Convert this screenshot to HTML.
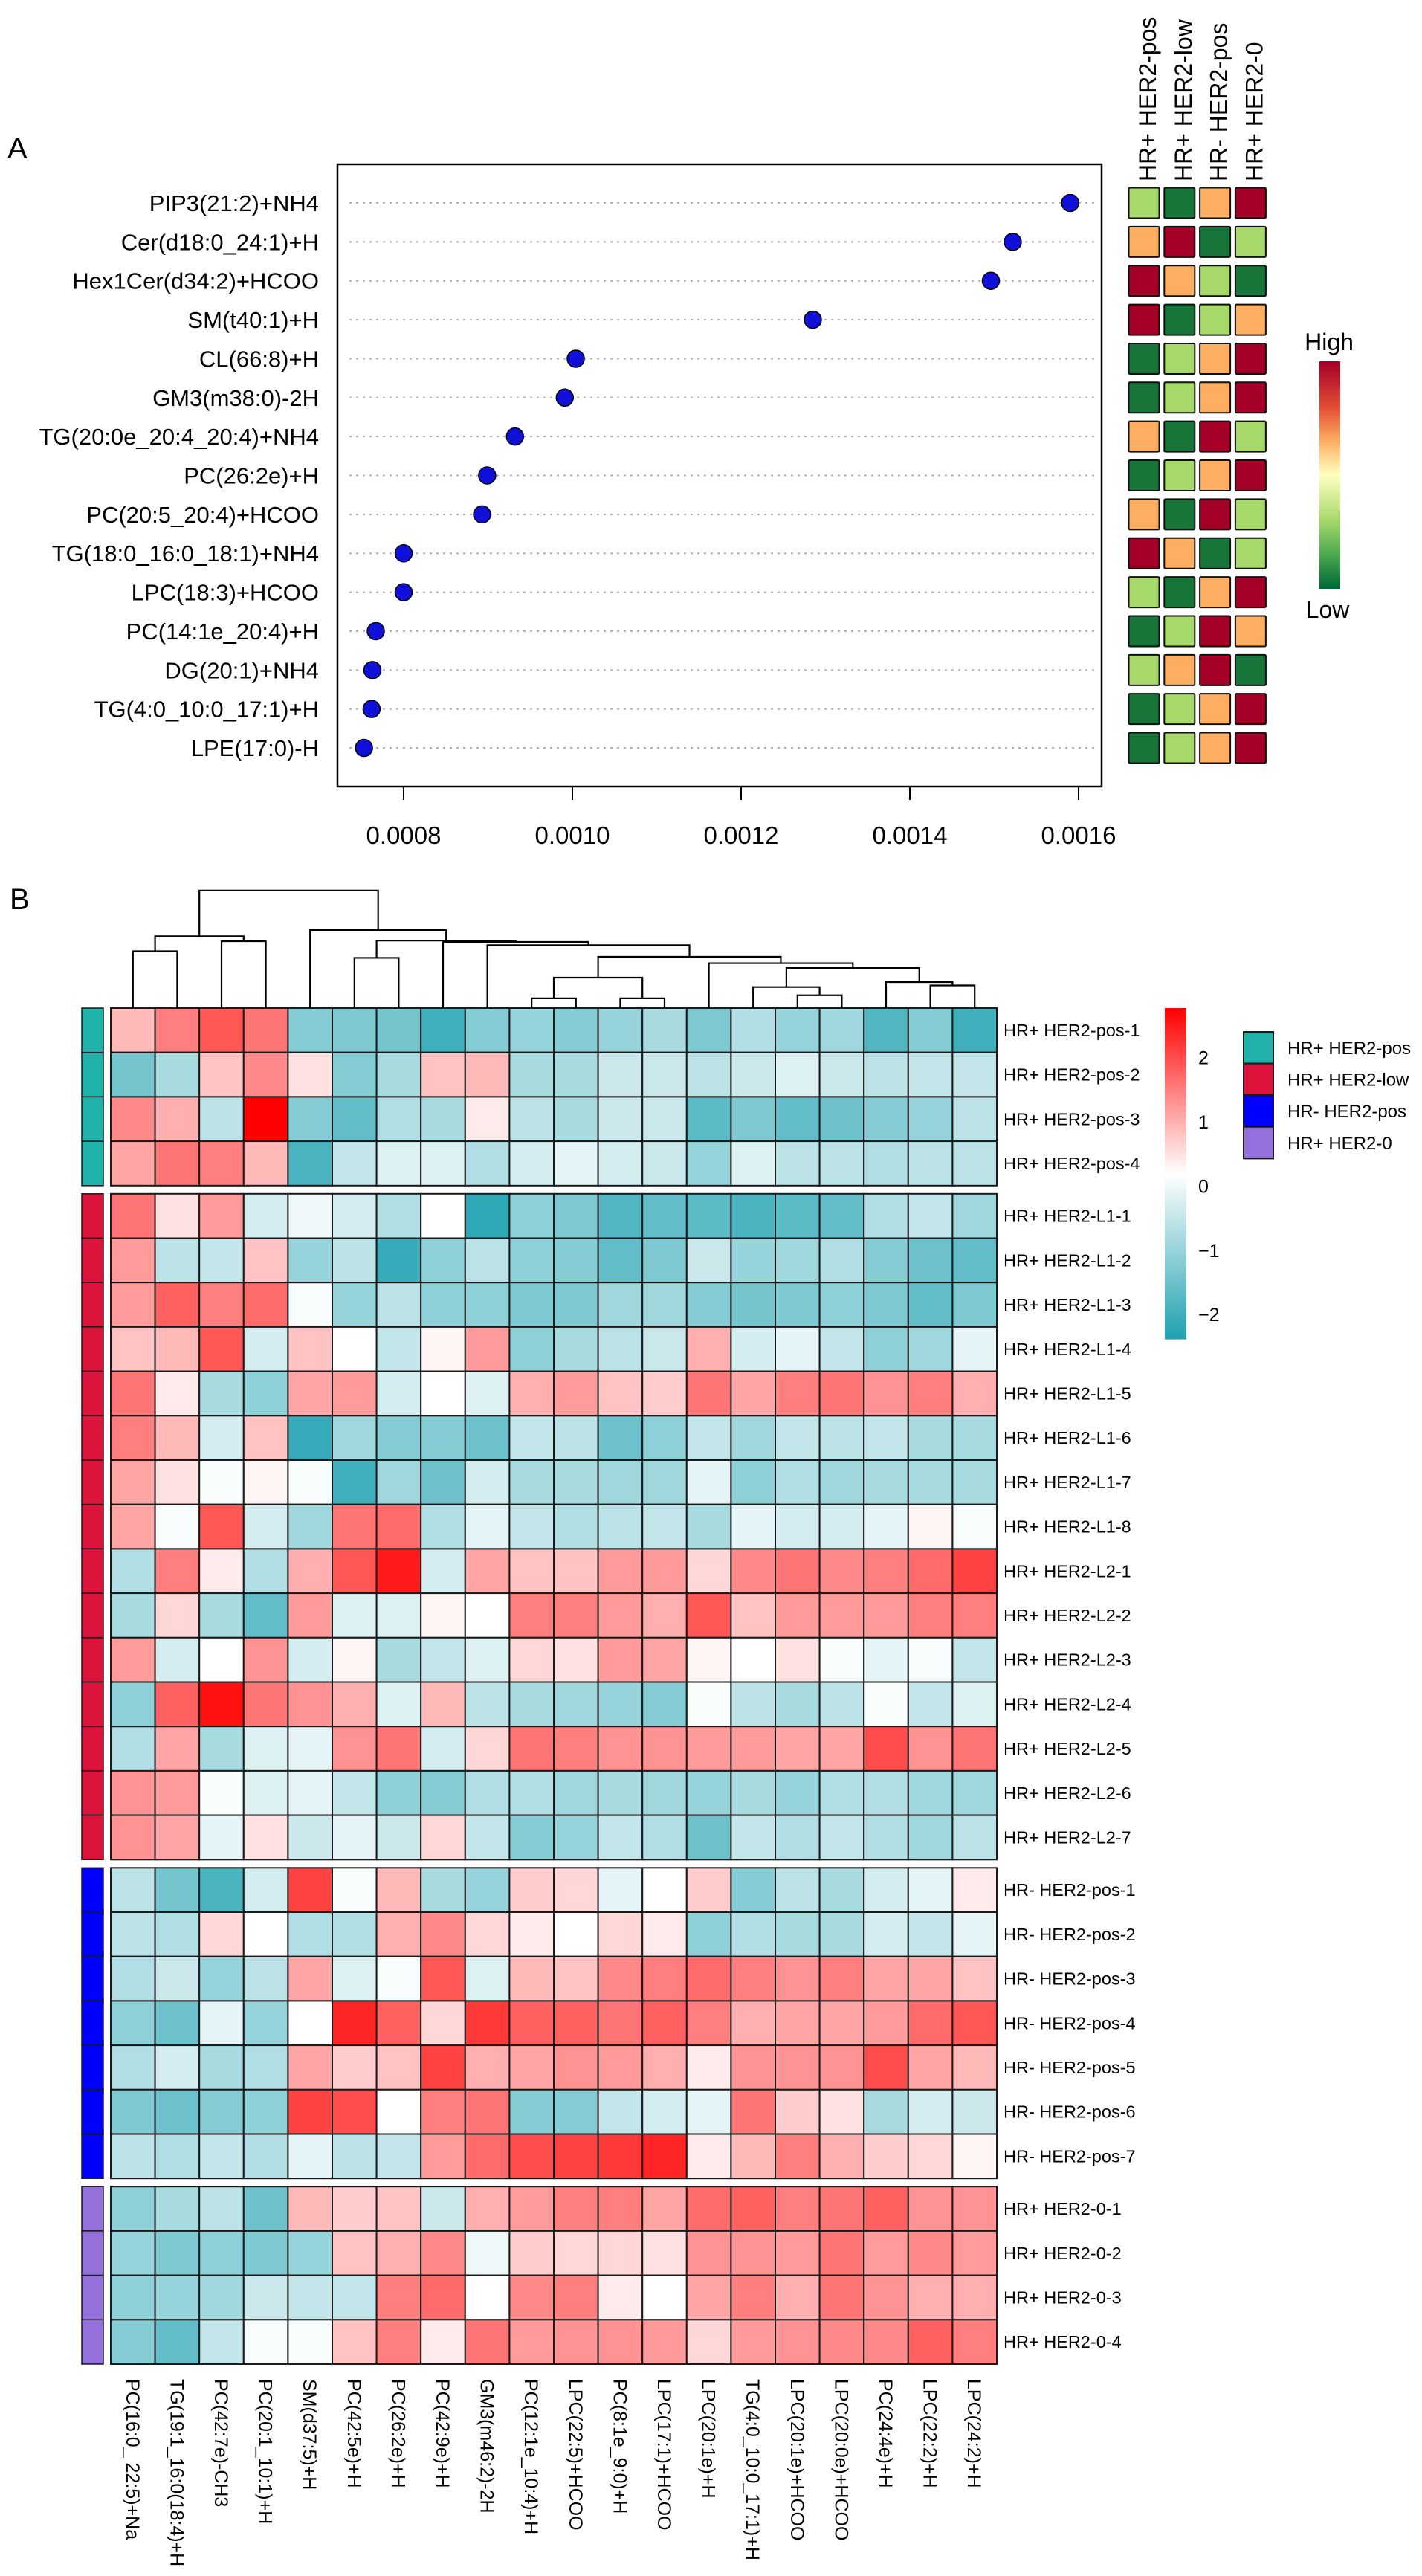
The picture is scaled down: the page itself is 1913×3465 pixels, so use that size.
<!DOCTYPE html>
<html><head><meta charset="utf-8"><style>
html,body{margin:0;padding:0;background:#fff;}
svg{display:block;font-family:"Liberation Sans",Arial,sans-serif;}
</style></head><body>
<svg id="fig" xmlns="http://www.w3.org/2000/svg" width="1913" height="3465" viewBox="0 0 1913 3465">
<defs>
<linearGradient id="gA" x1="0" y1="0" x2="0" y2="1">
<stop offset="0" stop-color="#a50026"/><stop offset="0.2" stop-color="#e34a33"/><stop offset="0.35" stop-color="#fdae61"/><stop offset="0.5" stop-color="#ffffbf"/><stop offset="0.7" stop-color="#a6d96a"/><stop offset="0.85" stop-color="#4aa84f"/><stop offset="1" stop-color="#006837"/>
</linearGradient>
</defs>
<text x="10" y="213" font-size="40">A</text>
<text x="13" y="1223" font-size="40">B</text>
<g id="pa"></g>
<g id="pb"></g>
</svg>
<script>
// ---------- Panel A data ----------
const lipidsA = ["PIP3(21:2)+NH4","Cer(d18:0_24:1)+H","Hex1Cer(d34:2)+HCOO","SM(t40:1)+H","CL(66:8)+H","GM3(m38:0)-2H","TG(20:0e_20:4_20:4)+NH4","PC(26:2e)+H","PC(20:5_20:4)+HCOO","TG(18:0_16:0_18:1)+NH4","LPC(18:3)+HCOO","PC(14:1e_20:4)+H","DG(20:1)+NH4","TG(4:0_10:0_17:1)+H","LPE(17:0)-H"];
const importance = [0.001590,0.001522,0.001496,0.001285,0.001004,0.000991,0.000932,0.000899,0.000893,0.000800,0.000800,0.000767,0.000763,0.000762,0.000753];
const xTicksA = [0.0008,0.0010,0.0012,0.0014,0.0016];
const xTickLabelsA = ["0.0008","0.0010","0.0012","0.0014","0.0016"];
const groupsA = ["HR+ HER2-pos","HR+ HER2-low","HR- HER2-pos","HR+ HER2-0"];
// levels: 0=low(dark green) 1=light green 2=orange 3=high(dark red)
const levelsA = [[1,0,2,3],[2,3,0,1],[3,2,1,0],[3,0,1,2],[0,1,2,3],[0,1,2,3],[2,0,3,1],[0,1,2,3],[2,0,3,1],[3,2,0,1],[1,0,2,3],[0,1,3,2],[1,2,3,0],[0,1,2,3],[0,1,2,3]];

// ---------- Panel B data ----------
const colLabels = ["PC(16:0_ 22:5)+Na","TG(19:1_16:0(18:4)+H","PC(42:7e)-CH3","PC(20:1_10:1)+H","SM(d37:5)+H","PC(42:5e)+H","PC(26:2e)+H","PC(42:9e)+H","GM3(m46:2)-2H","PC(12:1e_10:4)+H","LPC(22:5)+HCOO","PC(8:1e_9:0)+H","LPC(17:1)+HCOO","LPC(20:1e)+H","TG(4:0_10:0_17:1)+H","LPC(20:1e)+HCOO","LPC(20:0e)+HCOO","PC(24:4e)+H","LPC(22:2)+H","LPC(24:2)+H"];
const rowLabels = ["HR+ HER2-pos-1","HR+ HER2-pos-2","HR+ HER2-pos-3","HR+ HER2-pos-4","HR+ HER2-L1-1","HR+ HER2-L1-2","HR+ HER2-L1-3","HR+ HER2-L1-4","HR+ HER2-L1-5","HR+ HER2-L1-6","HR+ HER2-L1-7","HR+ HER2-L1-8","HR+ HER2-L2-1","HR+ HER2-L2-2","HR+ HER2-L2-3","HR+ HER2-L2-4","HR+ HER2-L2-5","HR+ HER2-L2-6","HR+ HER2-L2-7","HR- HER2-pos-1","HR- HER2-pos-2","HR- HER2-pos-3","HR- HER2-pos-4","HR- HER2-pos-5","HR- HER2-pos-6","HR- HER2-pos-7","HR+ HER2-0-1","HR+ HER2-0-2","HR+ HER2-0-3","HR+ HER2-0-4"];
const rowGroup = [0,0,0,0,1,1,1,1,1,1,1,1,1,1,1,1,1,1,1,2,2,2,2,2,2,2,3,3,3,3];
const groupNames = ["HR+ HER2-pos","HR+ HER2-low","HR- HER2-pos","HR+ HER2-0"];
const groupColors = ["#20B2AA","#DC143C","#0000FF","#9370DB"];
const zValues = [
[0.9,1.5,1.9,1.6,-1.2,-1.3,-1.4,-2.0,-1.2,-1.0,-1.2,-1.0,-0.8,-1.3,-0.7,-1.0,-0.9,-1.8,-1.2,-2.0],
[-1.4,-0.8,0.8,1.4,0.5,-1.2,-0.8,0.8,0.9,-0.8,-0.8,-0.4,-0.4,-0.6,-0.4,-0.2,-0.4,-0.6,-0.5,-0.5],
[1.4,1.0,-0.6,2.77,-1.2,-1.6,-0.7,-0.8,0.4,-0.6,-0.8,-0.4,-0.4,-1.7,-1.3,-1.6,-1.5,-1.2,-1.0,-0.6],
[1.1,1.6,1.5,0.9,-1.9,-0.5,-0.2,-0.2,-0.7,-0.3,-0.1,-0.3,-0.4,-1.0,-0.2,-0.6,-0.6,-0.7,-0.6,-0.6],
[1.6,0.5,1.2,-0.3,0.0,-0.3,-0.7,0.2,-2.2,-1.1,-1.3,-1.8,-1.6,-1.7,-1.9,-1.7,-1.6,-0.7,-0.5,-0.9],
[1.2,-0.6,-0.5,0.8,-1.0,-0.6,-2.1,-1.1,-0.6,-1.1,-1.2,-1.6,-1.3,-0.4,-1.0,-0.9,-0.7,-1.2,-1.5,-1.6],
[1.2,1.8,1.5,1.7,0.1,-1.0,-0.6,-1.1,-1.1,-1.3,-1.3,-0.9,-0.9,-1.2,-1.4,-1.3,-1.1,-1.3,-1.6,-1.3],
[0.8,0.9,1.9,-0.3,0.8,0.2,-0.5,0.3,1.2,-1.1,-0.8,-0.6,-0.4,1.0,-0.3,-0.1,-0.5,-1.1,-0.9,-0.1],
[1.6,0.4,-0.8,-1.1,1.1,1.2,-0.3,0.2,-0.2,1.0,1.2,0.8,0.7,1.6,1.1,1.5,1.6,1.3,1.5,1.0],
[1.5,0.9,-0.3,0.8,-2.1,-0.9,-1.2,-1.2,-1.5,-0.5,-0.6,-1.5,-1.1,-0.5,-0.9,-0.5,-0.6,-0.5,-0.8,-0.8],
[1.1,0.5,0.1,0.3,0.1,-2.0,-0.9,-1.5,-0.3,-0.8,-0.8,-0.9,-0.9,-0.1,-1.1,-0.7,-0.9,-0.8,-0.8,-0.8],
[1.1,0.1,1.9,-0.3,-0.9,1.6,1.7,-0.7,-0.1,-0.5,-0.7,-0.6,-0.5,-0.8,-0.1,-0.3,-0.3,-0.1,0.3,0.1],
[-0.7,1.5,0.4,-0.7,1.0,1.9,2.5,-0.3,1.1,0.8,0.8,1.2,1.2,0.6,1.4,1.6,1.4,1.5,1.7,2.1],
[-0.8,0.6,-0.8,-1.6,1.2,-0.2,-0.2,0.3,0.2,1.5,1.5,1.2,1.0,1.9,0.8,1.2,1.2,1.2,1.5,1.5],
[1.2,-0.3,0.2,1.3,-0.3,0.3,-0.8,-0.5,-0.2,0.6,0.5,1.2,1.1,0.3,0.2,0.5,0.1,-0.1,0.1,-0.5],
[-1.1,1.8,2.6,1.6,1.3,1.0,-0.2,0.9,-0.6,-0.8,-0.9,-1.0,-1.2,0.1,-0.6,-0.8,-0.6,0.1,-0.5,-0.2],
[-0.7,1.1,-0.8,-0.2,-0.1,1.3,1.6,-0.3,0.6,1.6,1.5,1.3,1.3,1.2,1.2,1.1,1.1,2.0,1.3,1.6],
[1.3,1.2,0.1,-0.2,-0.1,-0.5,-1.1,-1.2,-0.7,-0.7,-0.9,-0.8,-0.9,-1.0,-0.8,-1.0,-0.7,-0.7,-0.9,-0.9],
[1.3,1.1,-0.1,0.5,-0.4,-0.1,-0.4,0.6,-0.5,-1.2,-1.0,-0.5,-0.7,-1.5,-0.5,-0.7,-0.5,-0.7,-0.9,-0.6],
[-0.6,-1.4,-1.9,-0.3,2.1,0.1,0.9,-0.8,-1.0,0.7,0.6,-0.1,0.2,0.7,-1.2,-0.6,-0.8,-0.3,-0.1,0.4],
[-0.6,-0.7,0.6,0.2,-0.7,-0.7,1.0,1.4,0.6,0.4,0.2,0.6,0.4,-1.1,-0.7,-0.8,-0.8,-0.3,-0.5,-0.1],
[-0.7,-0.4,-1.0,-0.6,1.1,-0.2,0.1,1.9,-0.2,0.9,0.8,1.4,1.5,1.7,1.5,1.3,1.5,1.1,1.1,0.8],
[-1.1,-1.5,-0.1,-1.0,0.2,2.4,1.8,0.6,2.2,1.8,1.8,1.6,1.8,1.5,1.0,1.1,1.1,1.2,1.7,1.9],
[-0.7,-0.3,-0.8,-0.7,1.1,0.7,0.8,2.1,1.0,1.1,1.3,1.2,1.0,0.4,1.3,1.3,1.3,2.0,1.1,0.9],
[-1.3,-1.5,-1.2,-1.1,2.1,2.0,0.2,1.5,1.6,-1.2,-1.2,-0.5,-0.3,-0.1,1.6,0.7,0.5,-0.8,-0.3,-0.4],
[-0.6,-0.7,-0.5,-0.7,-0.1,-0.6,-0.5,1.2,1.7,2.0,2.1,2.2,2.4,0.4,0.9,1.5,1.0,0.7,0.6,0.3],
[-1.1,-0.8,-0.6,-1.5,0.9,0.7,0.8,-0.4,1.0,1.2,1.5,1.5,1.1,1.7,1.8,1.5,1.6,1.8,1.3,1.3],
[-1.0,-1.3,-1.1,-1.3,-1.0,0.8,1.0,1.4,0.0,0.7,0.6,0.6,0.5,1.3,1.3,1.2,1.6,1.2,1.4,1.2],
[-1.1,-1.0,-0.9,-0.4,-0.5,-0.5,1.5,1.7,0.2,1.4,1.5,0.4,0.2,1.1,1.5,1.0,1.6,1.3,1.0,1.0],
[-1.2,-1.6,-0.5,0.1,0.1,0.8,1.5,0.4,1.6,1.2,1.3,1.3,1.2,0.6,1.2,1.3,1.4,1.4,1.8,1.5]
];
const legendTicks = [2,1,0,-1,-2];
const legendTickLabels = ["2","1","0","\u22121","\u22122"];
// dendrogram merges (hclust style: negative = leaf index+1, positive = earlier merge)
const mergeLeft  = [-10,-12,-16,-15,-19,-18,1,4,-14,7,-9,-8,-6,13,-5,-1,-3,16,18];
const mergeRight = [-11,-13,-17,3,-20,5,2,6,8,9,10,11,-7,12,14,-2,-4,17,15];
const mergeHeight= [0.83,0.83,1.09,1.79,1.93,2.21,2.59,3.41,3.82,4.36,5.35,5.63,4.27,5.74,6.64,4.84,5.69,6.11,10.0];

const NS = "http://www.w3.org/2000/svg";
function mk(parent, tag, attrs, txt){
  const e = document.createElementNS(NS, tag);
  for (const k in attrs) e.setAttribute(k, attrs[k]);
  if (txt !== undefined) e.textContent = txt;
  parent.appendChild(e);
  return e;
}

// ---------- Panel A ----------
const pa = document.getElementById("pa");
const boxL = 454, boxR = 1482, boxT = 221, boxB = 1058;
const xA = v => 543 + (v - 0.0008) / 0.0002 * 227;
const yA = i => 273 + i * 52.36;
const box = mk(pa, "rect", {x:boxL, y:boxT, width:boxR-boxL, height:boxB-boxT, fill:"none", stroke:"#000", "stroke-width":2.5});


xTicksA.forEach((t, k) => {
  const x = xA(t);
  const tl = mk(pa, "line", {x1:x, x2:x, y1:boxB, y2:boxB+18, stroke:"#000", "stroke-width":2});
  
  
  const tt = mk(pa, "text", {x:x, y:1135, "font-size":33, "text-anchor":"middle"}, xTickLabelsA[k]);
  
  
});
const tileColors = ["#17753a","#a6d96a","#fdae61","#a50026"];
const tileX = j => 1539 + j * 47.8;
lipidsA.forEach((name, i) => {
  const y = yA(i);
  const gl = mk(pa, "line", {x1:470, x2:1472, y1:y, y2:y, stroke:"#b0b0b0", "stroke-width":2, "stroke-dasharray":"3,6"});
  
  
  const lb = mk(pa, "text", {x:429, y:y+11, "font-size":31, "text-anchor":"end"}, name);
  
  
  const dot = mk(pa, "circle", {cx:xA(importance[i]), cy:y, r:11.5, fill:"#1010d8", stroke:"#000", "stroke-width":1.5});
  
  
  levelsA[i].forEach((lv, j) => {
    const r = mk(pa, "rect", {x:tileX(j)-20.5, y:y-20.5, width:41, height:41, fill:tileColors[lv], stroke:"#111", "stroke-width":2, rx:1.5});
    
    
  });
});
groupsA.forEach((g, j) => {
  const x = tileX(j) + 16, y = 244;
  const t = mk(pa, "text", {x:x, y:y, "font-size":32, transform:`rotate(-90 ${x} ${y})`}, g);
  
  
});
const gbar = mk(pa, "rect", {x:1775, y:486, width:28, height:306, fill:"url(#gA)"});


const hi = mk(pa, "text", {x:1788, y:471, "font-size":32, "text-anchor":"middle"}, "High");


const lo = mk(pa, "text", {x:1786, y:831, "font-size":32, "text-anchor":"middle"}, "Low");



// ---------- Panel B ----------
const pb = document.getElementById("pb");
const hx0 = 149, cw = 59.6, rh = 59.7, gap = 11, hTop = 1356;
const zMin = -2.38, zMax = 2.77, zMid = (zMin + zMax) / 2;
function zColor(v){
  let r, g, b;
  if (v < zMid){ const t = Math.min(1,(zMid - v)/(zMid - zMin)); r = 255 - t*224; g = 255 - t*94; b = 255 - t*79; }
  else { const t = Math.min(1,(v - zMid)/(zMax - zMid)); r = 255; g = 255 - t*255; b = 255 - t*255; }
  return `rgb(${Math.round(r)},${Math.round(g)},${Math.round(b)})`;
}
const colX = c => hx0 + c * cw;
const rowY = r => hTop + r * rh + rowGroup[r] * gap;
zValues.forEach((row, r) => {
  row.forEach((v, c) => {
    const cell = mk(pb, "rect", {x:colX(c), y:rowY(r), width:cw, height:rh, fill:zColor(v), stroke:"#1a1a1a", "stroke-width":2});
    
    
  });
  const an = mk(pb, "rect", {x:110, y:rowY(r), width:29, height:rh, fill:groupColors[rowGroup[r]], stroke:"#1a1a1a", "stroke-width":1.5});
  
  
  const rl = mk(pb, "text", {x:1350, y:rowY(r)+rh/2+8, "font-size":23.5}, rowLabels[r]);
  
  
});
colLabels.forEach((lab, c) => {
  const x = colX(c) + cw/2 - 9, y = 3200;
  const t = mk(pb, "text", {x:x, y:y, "font-size":25, transform:`rotate(90 ${x} ${y})`}, lab);
  
  
});
// dendrogram
const dTop = hTop, dScale = 15.82;
const nodeX = [], nodeH = [];
function pos(ref){ return ref < 0 ? [colX(-ref-1)+cw/2, 0] : [nodeX[ref-1], nodeH[ref-1]]; }
mergeLeft.forEach((L, k) => {
  const [xl, hl] = pos(L), [xr, hr] = pos(mergeRight[k]);
  const h = mergeHeight[k];
  const y = dTop - h*dScale;
  const p = mk(pb, "path", {d:`M${xl},${dTop - hl*dScale} V${y} H${xr} V${dTop - hr*dScale}`, fill:"none", stroke:"#000", "stroke-width":2.2});
  
  
  nodeX.push((xl + xr)/2); nodeH.push(h);
});
// color legend bar
const lbX = 1567, lbW = 29, lbT = 1356, lbB = 1801;
const yLeg = v => lbT + (zMax - v) / (zMax - zMin) * (lbB - lbT);
for (let k = 0; k < 150; k++){
  const v = zMax - (k + 0.5) / 150 * (zMax - zMin);
  const s = mk(pb, "rect", {x:lbX, y:lbT + k*(lbB-lbT)/150, width:lbW, height:(lbB-lbT)/150 + 0.6, fill:zColor(v)});
  
  
}
legendTicks.forEach((t, k) => {
  const tt = mk(pb, "text", {x:1612, y:yLeg(t)+9, "font-size":25}, legendTickLabels[k]);
  
  
});
// group legend
groupNames.forEach((g, k) => {
  const y = 1388 + k * 42.6;
  const r = mk(pb, "rect", {x:1673, y:y, width:40, height:42.6, fill:groupColors[k], stroke:"#1a1a1a", "stroke-width":2});
  
  
  const t = mk(pb, "text", {x:1732, y:y+30, "font-size":24}, g);
  
  
});
</script>
</body></html>
